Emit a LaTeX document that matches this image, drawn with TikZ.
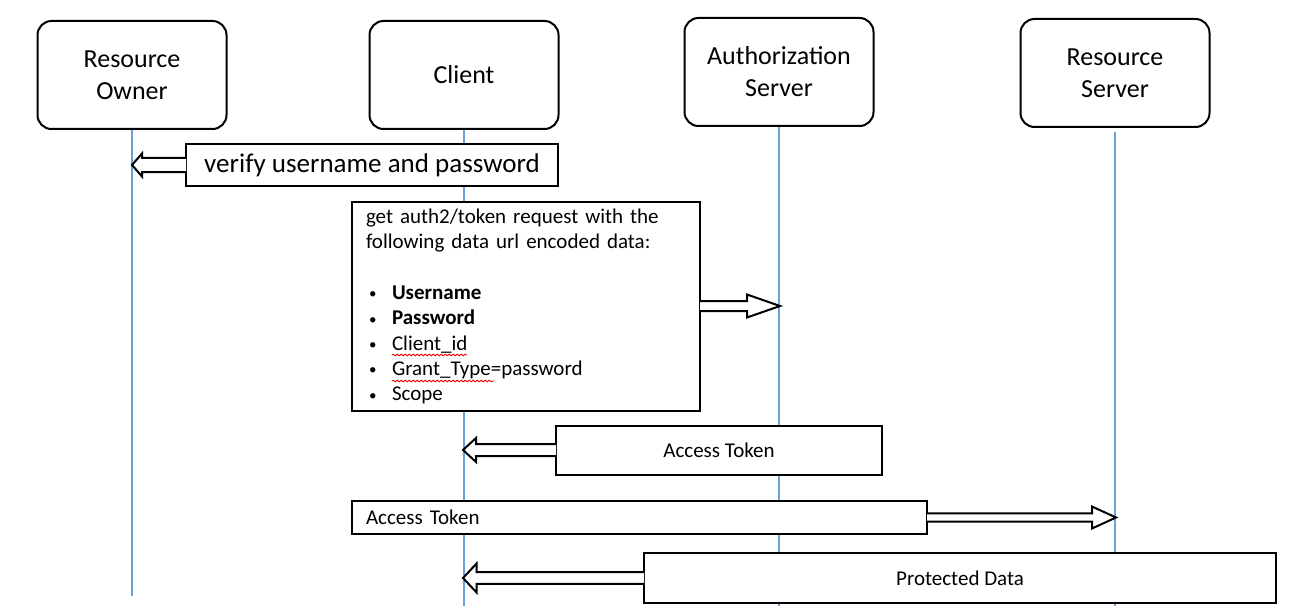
\documentclass[tikz,border=0pt]{standalone}
\usepackage{fontspec}
\setmainfont{Carlito}
\usetikzlibrary{calc,decorations.pathmorphing}
\definecolor{lifeblue}{RGB}{108,160,218}
\tikzset{actor/.style={draw,rounded corners=7pt,line width=1pt,minimum width=94.5pt,minimum height=54pt,align=center,font=\fontsize{13}{16}\selectfont}}
\tikzset{msg/.style={draw,fill=white,line width=1pt,inner sep=0pt,font=\fontsize{10.5}{12.7}\selectfont}}
\tikzset{life/.style={draw=lifeblue,line width=0.7pt}}
\tikzset{fat/.style={draw,fill=white,line width=1pt,line join=miter}}
\tikzset{spell/.style={red,line width=0.4pt,decorate,decoration={snake,amplitude=0.45pt,segment length=2pt}}}
\newcommand{\fatarrow}[5]{%
  \draw[fat] let \p1=(#1), \p2=(#2) in
    (\x1,\y2+#3) -- (\x2+#5,\y2+#3) -- (\x2+#5,\y2+#4) -- (\x2,\y2)
    -- (\x2+#5,\y2-#4) -- (\x2+#5,\y2-#3) -- (\x1,\y2-#3);}
\newcommand{\dataitem}{\hspace*{1.5pt}\makebox[11.5pt][l]{\raisebox{0.4pt}{\fontsize{7.5}{7.5}\selectfont\textbullet}}}

\begin{document}
\begin{tikzpicture}[x=0.5pt,y=-0.5pt]
    \useasboundingbox (0,0) rectangle (1301,615);
    % participants
    \node[actor] (owner) at (132,75) {Resource\\Owner};
    \node[actor] (client) at (464,75) {Client};
    \node[actor] (auth) at (779,72) {Authorization\\Server};
    \node[actor] (res) at (1115,73) {Resource\\Server};
    % lifelines
    \coordinate (owner end) at (132,596);
    \coordinate (client end) at (464,606);
    \coordinate (auth end) at (779,606);
    \coordinate (res end) at (1115,606);
    \draw[life] (owner.south) -- (owner end);
    \draw[life] (client.south) -- (client end);
    \draw[life] (auth.south) -- (auth end);
    \draw[life] ([yshift=-2pt]res.south) -- (res end);
    % messages
    \node[msg,minimum width=186pt,minimum height=20.5pt,font=\fontsize{13.5}{16}\selectfont] (verify) at (372,165) {verify username and password};
    \node[msg,minimum width=174pt,minimum height=104.5pt,text width=160pt,align=left] (req) at (526,306.5)
      {get auth2/token request with the\\
       following data url encoded data:\\[12.7pt]
       \dataitem\textbf{Username}\\
       \dataitem\textbf{Password}\\
       \dataitem Client\_id\\
       \dataitem Grant\_Type=password\\
       \dataitem Scope};
    \draw[spell] (392,355) -- (467,355);
    \draw[spell] (392,381) -- (494,381);
    \node[msg,minimum width=163pt,minimum height=24.5pt] (token) at (719,450) {Access Token};
    \node[msg,minimum width=287.5pt,minimum height=16.5pt,text width=273.5pt,align=left] (call) at (639.5,517) {Access Token};
    \node[msg,minimum width=316pt,minimum height=25pt] (data) at (960,578) {Protected Data};
    % arrows
    \coordinate (t1) at (132,165);
    \coordinate (t2) at (780,306);
    \coordinate (t3) at (463,450);
    \coordinate (t4) at (1116,517.5);
    \coordinate (t5) at (463,578);
    \fatarrow{[xshift=0.5pt]verify.west}{t1}{3.5pt}{5.75pt}{5pt}
    \fatarrow{[xshift=-0.5pt]req.east}{t2}{2.5pt}{5.75pt}{-16.5pt}
    \fatarrow{[xshift=0.5pt]token.west}{t3}{3pt}{6pt}{6.5pt}
    \fatarrow{[xshift=-0.5pt]call.east}{t4}{2.1pt}{5.5pt}{-12pt}
    \fatarrow{[xshift=0.5pt]data.west}{t5}{2.9pt}{7.2pt}{6.75pt}
\end{tikzpicture}
\end{document}
